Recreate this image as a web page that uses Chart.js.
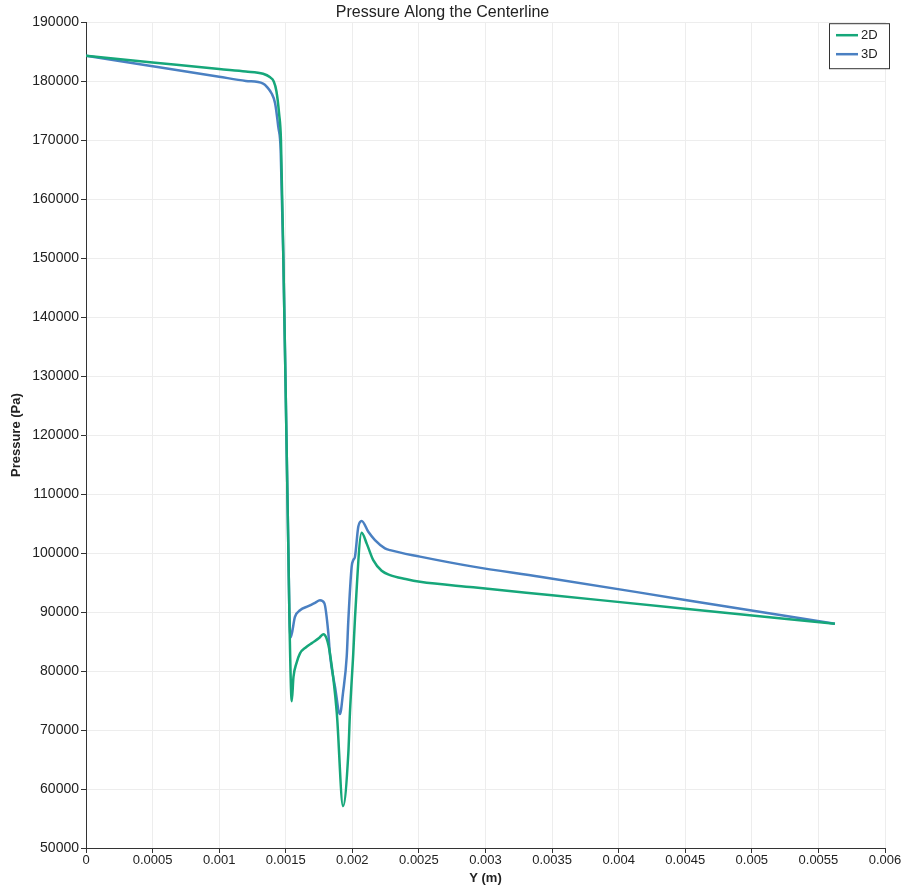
<!DOCTYPE html>
<html>
<head>
<meta charset="utf-8">
<title>Pressure Along the Centerline</title>
<script src="https://cdn.jsdelivr.net/npm/chart.js@4.4.1/dist/chart.umd.min.js"></script>
<style>
  html, body { margin: 0; padding: 0; background: #ffffff; }
  #wrap { width: 910px; height: 890px; }
</style>
</head>
<body>
<div id="wrap"><canvas id="c" width="910" height="890"></canvas></div>
<script>
// Centerline samples: position Y (m) and pressure (Pa)
const y2D = [0, 0.0005, 0.001, 0.0012, 0.00133, 0.00138, 0.00141, 0.00143, 0.00145, 0.001464,
  0.001482, 0.001505, 0.00152, 0.00153, 0.001545, 0.001558, 0.00158, 0.001607, 0.00165, 0.0017,
  0.00175, 0.001782, 0.001807, 0.001832, 0.001883, 0.00193, 0.00197, 0.001982, 0.002007, 0.00202,
  0.00207, 0.002108, 0.002157, 0.00222, 0.002283, 0.0024, 0.002508, 0.002908, 0.0035, 0.0045, 0.005624];
const p2D = [184300, 183180, 182050, 181650, 181250, 180700, 179950, 178300, 174500, 170000,
  150000, 120000, 100000, 86000, 74900, 79000, 81300, 83000, 84000, 84800,
  85600, 86250, 85500, 83000, 73000, 57100, 66100, 72900, 83000, 89000,
  103450, 101600, 98800, 97000, 96270, 95600, 95130, 94200, 92850, 90570, 88000];

const y3D = [0, 0.0005, 0.001, 0.0012, 0.00133, 0.00136, 0.001394, 0.00142, 0.001444, 0.001462,
  0.001482, 0.001505, 0.00152, 0.001527, 0.001537, 0.001569, 0.001607, 0.001669, 0.00172, 0.001757,
  0.00179, 0.00182, 0.001832, 0.00187, 0.001907, 0.00193, 0.001958, 0.00197, 0.001995, 0.002007,
  0.00202, 0.002045, 0.00207, 0.00212, 0.00217, 0.002245, 0.002283, 0.002508, 0.002908, 0.003409,
  0.0045, 0.005624];
const p3D = [184300, 182520, 180750, 180050, 179600, 179000, 177900, 176270, 172250, 168300,
  150000, 120000, 100000, 90000, 85700, 89200, 90300, 91000, 91560, 92000,
  91500, 86400, 82800, 77300, 72700, 76300, 82500, 88600, 97700, 98800,
  99400, 104500, 105450, 103600, 102200, 100800, 100500, 99400, 97700, 96000,
  92060, 88000];

const seriesNames = ['2D', '3D'];
const seriesColors = ['#16a77a', '#4a80c2'];

const xTicks = [0, 0.0005, 0.001, 0.0015, 0.002, 0.0025, 0.003, 0.0035, 0.004, 0.0045, 0.005, 0.0055, 0.006];
const xTickLabels = ['0', '0.0005', '0.001', '0.0015', '0.002', '0.0025', '0.003', '0.0035', '0.004', '0.0045', '0.005', '0.0055', '0.006'];
const yTicks = [50000, 60000, 70000, 80000, 90000, 100000, 110000, 120000, 130000, 140000, 150000, 160000, 170000, 180000, 190000];

const FONT = '"Liberation Sans", Arial, sans-serif';
const TEXT = '#222222';

const toPoints = (xs, ys) => xs.map((x, i) => ({ x: x, y: ys[i] }));

// Boxed legend in the top-right corner of the plot area
const boxedLegend = {
  id: 'boxedLegend',
  afterDraw(chart) {
    const { ctx, chartArea } = chart;
    const w = 60, h = 45;
    const x0 = chartArea.right + 4 - w, y0 = chartArea.top + 1;
    ctx.save();
    ctx.fillStyle = '#ffffff';
    ctx.fillRect(x0, y0, w, h);
    ctx.strokeStyle = '#333333';
    ctx.lineWidth = 1;
    ctx.strokeRect(x0 + 0.5, y0 + 0.5, w, h);
    ctx.font = '13px ' + FONT;
    ctx.textBaseline = 'middle';
    ctx.fillStyle = TEXT;
    chart.data.datasets.forEach((ds, i) => {
      const yy = y0 + 12 + i * 19;
      ctx.strokeStyle = ds.borderColor;
      ctx.lineWidth = 2.5;
      ctx.beginPath();
      ctx.moveTo(x0 + 7, yy);
      ctx.lineTo(x0 + 29, yy);
      ctx.stroke();
      ctx.fillText(ds.label, x0 + 32, yy);
    });
    ctx.restore();
  }
};

new Chart(document.getElementById('c'), {
  type: 'line',
  data: {
    datasets: [
      { label: seriesNames[0], data: toPoints(y2D, p2D), borderColor: seriesColors[0] },
      { label: seriesNames[1], data: toPoints(y3D, p3D), borderColor: seriesColors[1] }
    ]
  },
  options: {
    responsive: false,
    animation: false,
    layout: { padding: { left: 0, right: 25, top: 0, bottom: 0 } },
    elements: {
      point: { radius: 0 },
      line: { borderWidth: 2.5, cubicInterpolationMode: 'monotone', fill: false }
    },
    plugins: {
      legend: { display: false },
      tooltip: { enabled: false },
      title: {
        display: true,
        text: 'Pressure Along the Centerline',
        color: TEXT,
        font: { family: FONT, size: 16, weight: 'normal', lineHeight: 1.2 },
        padding: { top: 3, bottom: 0 }
      }
    },
    scales: {
      x: {
        type: 'linear',
        min: 0, max: 0.006,
        afterBuildTicks(scale) { scale.ticks = xTicks.map(v => ({ value: v })); },
        afterFit(scale) { scale.height = 42; },
        ticks: {
          color: TEXT,
          font: { family: FONT, size: 13 },
          padding: 0,
          maxRotation: 0,
          autoSkip: false,
          callback: (v) => xTickLabels[xTicks.indexOf(v)]
        },
        grid: { color: '#ededed', tickColor: '#333333', tickLength: 5, lineWidth: 1 },
        border: { color: '#333333', width: 1 },
        title: {
          display: true, text: 'Y (m)', color: TEXT,
          font: { family: FONT, size: 13, weight: 'bold', lineHeight: 1.2 },
          padding: { top: 0, bottom: 4 }
        }
      },
      y: {
        type: 'linear',
        min: 50000, max: 190000,
        afterBuildTicks(scale) { scale.ticks = yTicks.map(v => ({ value: v })); },
        afterFit(scale) { scale.width = 86; },
        ticks: {
          color: TEXT,
          font: { family: FONT, size: 14 },
          padding: 2,
          autoSkip: false,
          callback: (v) => String(v)
        },
        grid: { color: '#ededed', tickColor: '#333333', tickLength: 5, lineWidth: 1 },
        border: { color: '#333333', width: 1 },
        title: {
          display: true, text: 'Pressure (Pa)', color: TEXT,
          font: { family: FONT, size: 13, weight: 'bold', lineHeight: 1.2 },
          padding: { top: 9, bottom: 0 }
        }
      }
    }
  },
  plugins: [boxedLegend]
});
</script>
</body>
</html>
